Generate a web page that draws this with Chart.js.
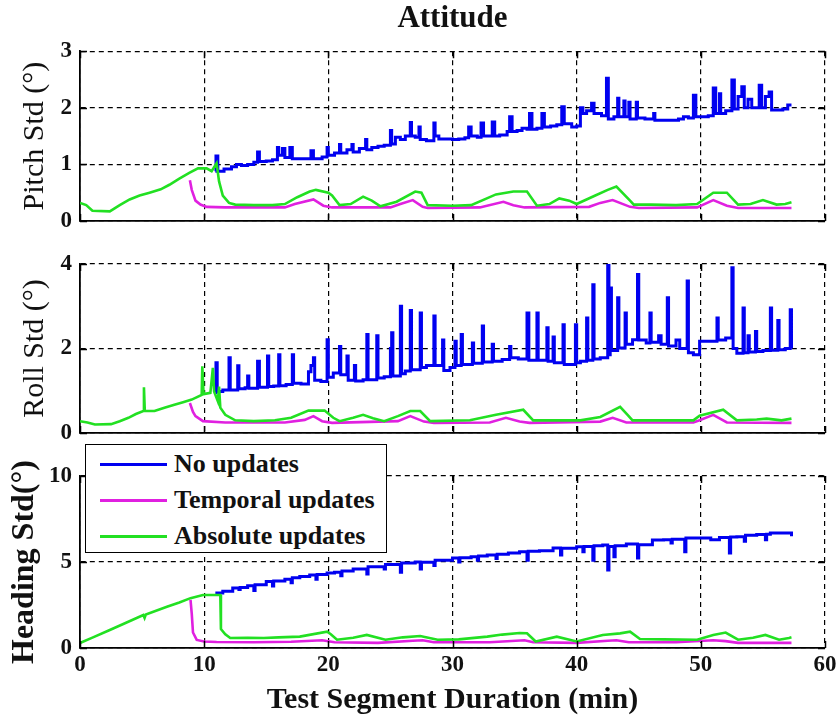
<!DOCTYPE html>
<html>
<head>
<meta charset="utf-8">
<script src="https://cdn.jsdelivr.net/npm/chart.js@4"></script>
<style>
  html, body { margin: 0; padding: 0; background: #fff; }
  #wrap { position: relative; width: 840px; height: 720px; overflow: hidden; }
  #wrap canvas { position: absolute; left: 0; }
  #legend {
    position: absolute; left: 85px; top: 444px; width: 300px; height: 107px;
    border: 1.5px solid #000; background: #fff;
    font: bold 26px "Liberation Serif", serif; color: #111;
  }
  #legend .row { position: absolute; left: 0; height: 30px; line-height: 30px; }
  #legend .ln { position: absolute; left: 14px; top: 14px; width: 67px; height: 3px; }
  #legend .tx { position: absolute; left: 88px; white-space: nowrap; }
</style>
</head>
<body>
<div id="wrap">
  <canvas id="pitch" width="840" height="240" style="top:0px"></canvas>
  <canvas id="roll" width="840" height="210" style="top:240px"></canvas>
  <canvas id="heading" width="840" height="280" style="top:440px"></canvas>
  <div id="legend"></div>
</div>
<script>
// series names / colours (legend order)
const seriesNames  = ['No updates', 'Temporal updates', 'Absolute updates'];
const seriesColors = ['#0000f0', '#e020e0', '#22e022'];

// [minute, std in degrees]
const pitchNone = [[10.9,0.88],[10.95,1.15],[11.1,0.88],[11.6,0.92],[12.2,0.96],[12.6,1.0],[13.0,0.98],[13.5,1.0],[14.0,1.04],[14.3,1.22],[14.45,1.05],[15.0,1.06],[15.5,1.08],[15.9,1.3],[16.0,1.16],[16.3,1.28],[16.5,1.12],[16.9,1.3],[17.1,1.1],[17.5,1.1],[18.0,1.1],[18.6,1.24],[18.8,1.1],[19.5,1.13],[19.9,1.3],[20.0,1.16],[20.5,1.2],[20.9,1.35],[21.0,1.2],[21.5,1.26],[21.9,1.35],[22.0,1.22],[22.5,1.28],[23.0,1.44],[23.1,1.26],[23.5,1.3],[24.0,1.32],[24.5,1.34],[25.0,1.6],[25.1,1.36],[25.4,1.48],[25.8,1.44],[26.2,1.5],[26.6,1.74],[26.7,1.5],[27.0,1.48],[27.3,1.66],[27.4,1.44],[27.9,1.42],[28.5,1.73],[28.6,1.5],[28.9,1.45],[29.5,1.45],[30.0,1.44],[30.5,1.45],[31.0,1.47],[31.3,1.66],[31.5,1.5],[32.0,1.48],[32.3,1.73],[32.5,1.5],[33.2,1.75],[33.4,1.5],[33.8,1.52],[34.4,1.58],[34.6,1.84],[34.8,1.58],[35.2,1.6],[35.6,1.64],[36.0,1.62],[36.2,1.9],[36.4,1.62],[36.8,1.64],[37.2,1.9],[37.4,1.66],[37.9,1.68],[38.4,1.7],[38.8,2.02],[39.0,1.72],[39.6,1.66],[40.0,1.68],[40.3,2.0],[40.5,1.9],[40.8,1.95],[41.2,2.08],[41.4,1.9],[42.0,1.86],[42.4,2.52],[42.55,1.8],[43.0,1.84],[43.3,2.17],[43.4,1.84],[43.8,2.12],[43.9,1.84],[44.2,2.1],[44.3,1.8],[44.8,2.1],[44.9,1.82],[45.5,1.8],[46.2,1.9],[46.3,1.78],[47.0,1.78],[47.6,1.78],[48.2,1.8],[48.6,1.84],[49.0,1.82],[49.4,2.22],[49.6,1.84],[50.2,1.84],[50.6,1.86],[51.0,2.35],[51.2,1.9],[51.5,2.25],[51.6,1.9],[52.0,1.95],[52.5,2.49],[52.7,1.98],[53.0,2.2],[53.3,2.37],[53.5,2.0],[53.8,2.15],[54.1,2.0],[54.7,2.4],[54.9,2.0],[55.2,2.2],[55.5,2.28],[55.7,1.96],[56.2,1.96],[56.6,1.98],[57.0,2.05],[57.3,2.05]];
const pitchTemporal = [[8.85,0.72],[9.0,0.55],[9.3,0.36],[9.7,0.29],[10.2,0.25],[11.7,0.24],[16.5,0.24],[17.3,0.3],[18.8,0.38],[19.6,0.27],[20.3,0.24],[25.0,0.24],[25.8,0.3],[26.8,0.37],[27.6,0.25],[28.0,0.23],[32.2,0.24],[34.1,0.34],[34.9,0.28],[35.8,0.24],[41.0,0.25],[41.9,0.32],[42.9,0.37],[44.3,0.25],[45.0,0.23],[49.7,0.24],[51.0,0.37],[52.1,0.27],[53.0,0.23],[57.3,0.23]];
const pitchAbsolute = [[0,0.32],[0.5,0.28],[1.0,0.18],[2.4,0.17],[3.2,0.28],[4.0,0.38],[4.8,0.45],[5.6,0.5],[6.5,0.56],[7.2,0.64],[8.0,0.75],[8.8,0.85],[9.5,0.93],[10.2,0.93],[10.6,0.88],[11.0,1.02],[11.2,0.7],[11.5,0.45],[12.0,0.32],[12.5,0.29],[14.0,0.28],[15.5,0.28],[16.5,0.3],[17.5,0.42],[18.5,0.52],[19.0,0.55],[20.0,0.5],[20.3,0.45],[20.9,0.28],[21.8,0.3],[22.8,0.43],[23.5,0.36],[24.2,0.26],[25.5,0.34],[27.0,0.52],[27.5,0.5],[28.0,0.28],[30.0,0.27],[31.5,0.28],[33.5,0.47],[34.9,0.52],[36.0,0.52],[36.8,0.27],[37.8,0.3],[38.6,0.4],[39.4,0.36],[40.0,0.3],[41.5,0.45],[42.5,0.55],[43.2,0.61],[44.3,0.36],[44.6,0.29],[46.0,0.29],[48.0,0.28],[49.7,0.3],[51.0,0.5],[52.1,0.5],[53.0,0.29],[54.0,0.3],[55.0,0.37],[56.1,0.29],[56.8,0.3],[57.3,0.33]];

const rollNone = [[10.9,0.95],[10.95,1.66],[11.05,0.98],[11.5,1.02],[12.0,1.78],[12.1,1.02],[12.7,1.59],[12.8,1.05],[13.3,1.07],[13.5,1.35],[13.6,1.06],[14.3,1.7],[14.45,1.08],[15.1,1.82],[15.2,1.1],[15.6,1.11],[16.0,1.85],[16.1,1.12],[16.6,1.15],[17.1,1.85],[17.2,1.18],[17.8,1.16],[18.4,1.45],[18.6,1.6],[18.8,1.78],[18.9,1.25],[19.4,1.22],[19.9,2.21],[20.0,1.32],[20.4,1.42],[20.9,2.05],[21.0,1.38],[21.5,1.82],[21.6,1.25],[22.1,1.6],[22.2,1.23],[22.8,1.26],[23.1,2.33],[23.2,1.26],[23.9,2.3],[24.0,1.3],[24.5,1.33],[25.0,2.0],[25.1,2.37],[25.2,1.35],[25.8,3.0],[25.9,1.4],[26.2,1.47],[26.6,2.9],[26.7,1.5],[27.4,2.84],[27.5,1.55],[27.9,1.6],[28.5,2.77],[28.6,1.6],[29.2,2.2],[29.3,1.48],[29.8,1.55],[30.2,2.17],[30.3,1.6],[30.7,2.33],[30.8,1.62],[31.6,2.13],[31.7,1.65],[32.4,2.53],[32.5,1.68],[33.2,2.1],[33.3,1.7],[34.0,1.74],[34.6,2.05],[34.7,1.78],[35.3,1.75],[36.0,2.84],[36.15,1.72],[36.8,2.84],[36.9,1.72],[37.6,2.49],[37.7,1.7],[38.1,2.27],[38.2,1.66],[38.9,2.56],[39.0,1.62],[39.5,1.62],[39.9,2.56],[40.0,1.66],[40.3,1.7],[40.8,2.72],[40.9,1.72],[41.3,3.51],[41.4,1.75],[41.9,1.78],[42.5,4.02],[42.6,1.85],[42.7,3.43],[42.8,1.95],[43.3,3.2],[43.4,2.01],[43.9,2.84],[44.0,2.1],[44.5,2.21],[44.9,3.75],[45.0,2.2],[45.6,2.13],[45.9,2.84],[46.0,2.15],[46.6,2.3],[46.8,2.1],[47.3,3.2],[47.4,2.06],[48.0,2.2],[48.3,2.0],[48.9,3.6],[49.0,1.9],[49.4,1.85],[49.9,2.17],[51.3,2.72],[51.4,2.2],[52.0,2.25],[52.5,3.91],[52.6,2.0],[52.9,1.89],[53.4,2.96],[53.5,1.9],[53.8,2.3],[53.9,1.92],[54.4,2.4],[54.5,1.93],[55.0,1.95],[55.6,2.96],[55.7,1.96],[56.2,2.66],[56.3,1.97],[56.8,2.0],[57.2,2.92],[57.3,2.0]];
const rollTemporal = [[8.85,0.71],[9.1,0.5],[9.3,0.4],[9.9,0.28],[11.7,0.25],[16.5,0.25],[18.1,0.31],[18.8,0.4],[19.5,0.28],[20.3,0.24],[25.6,0.28],[26.6,0.4],[27.7,0.27],[28.5,0.24],[33.0,0.25],[34.3,0.36],[35.4,0.27],[36.2,0.24],[41.9,0.27],[42.9,0.36],[44.0,0.25],[49.4,0.25],[49.9,0.3],[51.0,0.43],[52.1,0.25],[57.3,0.24]];
const rollAbsolute = [[0,0.28],[0.6,0.25],[1.2,0.2],[2.5,0.21],[3.2,0.28],[3.9,0.36],[4.5,0.45],[5.1,0.52],[5.15,1.08],[5.22,0.52],[6.0,0.52],[6.8,0.6],[7.6,0.67],[8.3,0.73],[9.0,0.79],[9.8,0.9],[9.85,1.58],[9.95,0.92],[10.5,0.95],[10.7,1.54],[10.8,0.98],[11.1,0.75],[11.2,1.1],[11.3,0.6],[11.7,0.43],[12.5,0.3],[14.0,0.28],[15.7,0.3],[17.0,0.36],[18.4,0.53],[19.7,0.53],[20.4,0.36],[20.9,0.28],[22.0,0.36],[22.8,0.43],[23.6,0.35],[24.5,0.28],[25.6,0.4],[26.6,0.52],[27.4,0.52],[28.2,0.28],[31.4,0.3],[33.5,0.43],[35.7,0.55],[36.5,0.3],[38.5,0.3],[40.3,0.3],[41.9,0.38],[43.5,0.62],[44.1,0.43],[44.5,0.3],[47.0,0.3],[49.4,0.3],[49.9,0.41],[51.8,0.55],[52.9,0.3],[54.5,0.32],[55.3,0.34],[56.5,0.3],[57.3,0.34]];

const headingNone = [[10.9,3.2],[11.5,3.3],[12.3,3.49],[12.8,3.4],[12.9,3.52],[13.5,3.62],[14.0,3.35],[14.1,3.68],[15.0,3.86],[15.5,3.6],[15.6,3.9],[16.5,4.0],[17.0,3.8],[17.1,4.08],[17.7,4.15],[18.5,4.25],[19.0,4.0],[19.1,4.28],[19.9,4.36],[20.5,4.4],[21.0,4.2],[21.1,4.48],[22.0,4.6],[23.1,4.3],[23.2,4.73],[24.5,4.6],[24.6,4.85],[25.8,4.4],[25.9,4.94],[27.0,5.0],[27.4,4.6],[27.5,4.98],[28.5,4.8],[28.6,5.1],[30.0,5.23],[30.5,5.0],[30.6,5.25],[31.5,5.3],[32.0,5.1],[32.1,5.35],[32.8,5.41],[33.5,5.2],[33.6,5.45],[34.5,5.52],[35.4,5.6],[36.0,5.1],[36.1,5.62],[37.0,5.65],[38.1,5.81],[38.7,5.4],[38.8,5.8],[40.0,5.89],[40.5,5.6],[40.6,5.9],[41.3,5.1],[41.4,5.95],[42.1,5.99],[42.5,4.53],[42.6,5.9],[43.0,5.3],[43.1,5.95],[44.0,6.05],[44.9,5.23],[45.0,6.0],[46.1,6.28],[47.0,6.3],[47.6,6.1],[47.7,6.32],[48.7,5.6],[48.8,6.4],[50.2,6.4],[50.8,6.3],[51.5,6.42],[52.3,5.52],[52.4,6.45],[52.9,6.47],[53.5,6.2],[53.6,6.55],[54.5,6.6],[55.2,6.3],[55.3,6.62],[55.6,6.68],[56.9,6.68],[57.3,6.5]];
const headingTemporal = [[8.9,2.8],[9.0,2.0],[9.1,0.9],[9.4,0.47],[10.0,0.38],[11.0,0.35],[14.0,0.33],[17.0,0.36],[19.5,0.45],[20.5,0.33],[24.0,0.3],[26.8,0.42],[27.6,0.45],[28.5,0.33],[33.0,0.33],[35.8,0.45],[36.5,0.33],[40.0,0.3],[42.5,0.42],[43.2,0.45],[44.2,0.33],[48.0,0.33],[51.0,0.45],[52.0,0.4],[53.0,0.3],[57.3,0.3]];
const headingAbsolute = [[0,0.29],[1.0,0.6],[2.4,1.05],[3.8,1.5],[5.1,1.92],[5.2,1.75],[5.3,1.95],[7.0,2.4],[8.0,2.65],[8.9,2.9],[9.9,3.08],[11.3,3.08],[11.35,1.1],[11.7,0.8],[12.1,0.58],[13.5,0.6],[14.8,0.58],[16.0,0.62],[17.7,0.66],[19.9,0.95],[20.2,0.8],[20.7,0.48],[22.0,0.6],[23.1,0.76],[24.6,0.48],[26.0,0.62],[27.4,0.7],[28.8,0.48],[30.5,0.5],[32.8,0.66],[34.0,0.78],[35.4,0.87],[36.0,0.86],[36.7,0.38],[38.4,0.66],[40.0,0.38],[42.1,0.76],[43.5,0.85],[44.3,0.95],[45.1,0.52],[47.0,0.5],[49.7,0.48],[51.0,0.76],[52.0,0.9],[53.0,0.48],[54.2,0.6],[55.2,0.76],[56.3,0.48],[57.1,0.58],[57.3,0.62]];

const SERIF = '"Liberation Serif", "Times New Roman", serif';

// MATLAB style ticks pointing into the box, on all four sides
const inwardTicks = {
  id: 'inwardTicks',
  afterDraw(chart) {
    const { ctx, chartArea: a, scales: { x, y } } = chart;
    ctx.save();
    ctx.strokeStyle = '#000';
    ctx.lineWidth = 1.5;
    ctx.beginPath();
    x.ticks.forEach(t => {
      const p = Math.round(x.getPixelForValue(t.value)) + 0.5;
      ctx.moveTo(p, a.bottom); ctx.lineTo(p, a.bottom - 7);
      ctx.moveTo(p, a.top); ctx.lineTo(p, a.top + 7);
    });
    y.ticks.forEach(t => {
      const p = Math.round(y.getPixelForValue(t.value)) + 0.5;
      ctx.moveTo(a.left, p); ctx.lineTo(a.left + 7, p);
      ctx.moveTo(a.right, p); ctx.lineTo(a.right - 7, p);
    });
    ctx.stroke();
    ctx.restore();
  }
};

function lineSet(i, pts, stepped) {
  return {
    label: seriesNames[i],
    data: pts.map(([t, v]) => ({ x: t, y: v })),
    borderColor: seriesColors[i],
    backgroundColor: seriesColors[i],
    borderWidth: i === 0 ? 3 : 2.6,
    pointRadius: 0,
    stepped: stepped,
    tension: 0,
    order: i === 0 ? 2 : (i === 1 ? 1 : 0),
  };
}

function panel(id, p) {
  return new Chart(document.getElementById(id), {
    type: 'line',
    data: {
      datasets: [
        lineSet(0, p.none, true),
        lineSet(1, p.temporal, false),
        lineSet(2, p.absolute, false),
      ],
    },
    options: {
      responsive: false,
      animation: false,
      devicePixelRatio: 1,
      layout: { padding: { left: 0, right: 15, top: p.padTop, bottom: p.padBottom } },
      plugins: {
        legend: { display: false },
        tooltip: { enabled: false },
        title: p.title
          ? { display: true, text: p.title, fullSize: false, color: '#111',
              font: { family: SERIF, size: 31, weight: 'bold' }, padding: { top: 0, bottom: 14 } }
          : { display: false },
      },
      scales: {
        x: {
          type: 'linear', min: 0, max: 60,
          ticks: { stepSize: 10, display: p.showX, color: '#111', padding: 3,
                   font: { family: SERIF, size: 23, weight: 'bold' } },
          grid: { color: '#000', lineWidth: 1.2, drawTicks: false },
          border: { color: '#000', width: 1.8, dash: [5, 4] },
          title: p.showX
            ? { display: true, text: 'Test Segment Duration (min)', color: '#111',
                font: { family: SERIF, size: 30, weight: 'bold' }, padding: { top: 0, bottom: 2 } }
            : { display: false },
          afterFit: s => { s.height = p.xHeight; s.paddingLeft = 0; s.paddingRight = 0; },
        },
        y: {
          min: 0, max: p.yMax,
          ticks: { stepSize: p.yStep, color: '#111', padding: 8,
                   font: { family: SERIF, size: 23, weight: 'bold' } },
          grid: { color: '#000', lineWidth: 1.2, drawTicks: false },
          border: { color: '#000', width: 1.8, dash: [5, 4] },
          title: { display: true, text: p.yTitle, color: '#111',
                   font: { family: SERIF, size: p.yTitleSize, weight: p.yTitleWeight },
                   padding: { top: p.yTitlePad, bottom: 0 } },
          afterFit: s => { s.width = 80; s.paddingTop = 0; s.paddingBottom = 0; },
        },
      },
    },
    plugins: [inwardTicks],
  });
}

panel('pitch', {
  title: 'Attitude', none: pitchNone, temporal: pitchTemporal, absolute: pitchAbsolute,
  yTitle: 'Pitch Std (°)', yTitleSize: 30, yTitleWeight: 'normal', yTitlePad: 17,
  yMax: 3, yStep: 1, showX: false, xHeight: 0, padTop: 0, padBottom: 19,
});
panel('roll', {
  none: rollNone, temporal: rollTemporal, absolute: rollAbsolute,
  yTitle: 'Roll Std (°)', yTitleSize: 30, yTitleWeight: 'normal', yTitlePad: 17,
  yMax: 4, yStep: 2, showX: false, xHeight: 0, padTop: 24, padBottom: 17,
});
panel('heading', {
  none: headingNone, temporal: headingTemporal, absolute: headingAbsolute,
  yTitle: 'Heading Std(°)', yTitleSize: 32, yTitleWeight: 'bold', yTitlePad: 6,
  yMax: 10, yStep: 5, showX: true, xHeight: 72, padTop: 36, padBottom: 0,
});

// legend box drawn over the top of the heading panel
const legend = document.getElementById('legend');
seriesNames.forEach((name, i) => {
  const row = document.createElement('div');
  row.className = 'row';
  row.style.top = (4 + i * 36) + 'px';
  row.innerHTML = '<span class="ln"></span><span class="tx"></span>';
  row.querySelector('.ln').style.background = seriesColors[i];
  row.querySelector('.tx').textContent = name;
  legend.appendChild(row);
});
</script>
</body>
</html>
